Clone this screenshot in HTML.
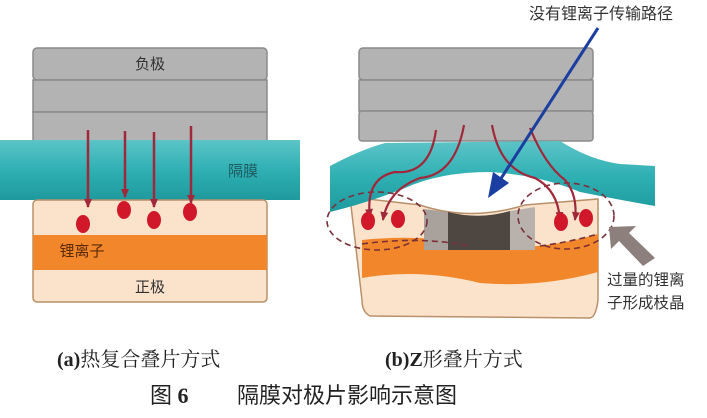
<!DOCTYPE html>
<html><head><meta charset="utf-8"><style>
html,body{margin:0;padding:0;background:#fff;}
svg{display:block;}
text{font-family:"Liberation Sans","Noto Sans CJK SC",sans-serif;}
.cap{font-family:"Liberation Serif","Noto Serif CJK SC",serif;}
</style></head><body>
<svg width="707" height="418" viewBox="0 0 707 418" xmlns="http://www.w3.org/2000/svg">
<defs>
<linearGradient id="teal" x1="0" y1="0" x2="0" y2="1">
<stop offset="0" stop-color="#5cc4c8"/><stop offset="0.5" stop-color="#2fb0b3"/><stop offset="1" stop-color="#1e9a9e"/>
</linearGradient>
<marker id="rh" markerWidth="10" markerHeight="10" refX="8" refY="4" orient="auto" markerUnits="userSpaceOnUse">
<path d="M0,0 L9,4 L0,8 Z" fill="#a0283a"/></marker>
</defs>
<!-- LEFT PANEL -->
<g stroke="#8a8a8a" stroke-width="1.5">
<rect x="33" y="48" width="234" height="32" rx="4" fill="#b3b3b3"/>
<rect x="33" y="80" width="234" height="32" fill="#b3b3b3"/>
<rect x="33" y="112" width="234" height="30" fill="#b3b3b3"/>
</g>
<text x="150" y="69" font-size="15" fill="#333" text-anchor="middle">负极</text>
<rect x="0" y="140" width="300" height="60" fill="url(#teal)"/>
<text x="243" y="176" font-size="15" fill="#1d5a5e" text-anchor="middle">隔膜</text>
<rect x="33" y="200" width="234" height="102" rx="4" fill="#fbe3cb" stroke="#b8906a" stroke-width="1.5"/>
<rect x="33" y="235" width="234" height="35" fill="#f2862a"/>
<text x="82" y="256" font-size="15" fill="#5a2a0a" text-anchor="middle">锂离子</text>
<text x="150" y="292" font-size="15" fill="#333" text-anchor="middle">正极</text>
<g stroke="#a0283a" stroke-width="2.5" marker-end="url(#rh)">
<line x1="88" y1="130" x2="88" y2="207"/>
<line x1="125" y1="131" x2="125" y2="197"/>
<line x1="154" y1="132" x2="154" y2="207"/>
<line x1="191" y1="126" x2="191" y2="203"/>
</g>
<g fill="#d0182a">
<ellipse cx="83" cy="224" rx="7" ry="9"/>
<ellipse cx="124" cy="210" rx="7" ry="9"/>
<ellipse cx="154" cy="220" rx="7" ry="9"/>
<ellipse cx="190" cy="212" rx="7" ry="9"/>
</g>
<!-- RIGHT PANEL -->
<g stroke="#8a8a8a" stroke-width="1.5">
<rect x="359" y="48" width="234" height="32" rx="4" fill="#b3b3b3"/>
<rect x="359" y="80" width="234" height="31" fill="#b3b3b3"/>
<rect x="359" y="111" width="234" height="30" rx="3" fill="#b3b3b3"/>
</g>
<path d="M350,197 L420,205 Q470,222 525,205 L598,199 L598,300 Q596,317 590,318 L370,316 Q362,312 362,300 Z" fill="#fbe3cb" stroke="#b8906a" stroke-width="1.5"/>
<path d="M362,240 Q420,234 470,244 Q530,254 598,234 L598,272 Q540,288 480,283 Q420,268 362,278 Z" fill="#f2862a"/>
<path d="M424,209 L448,212 L448,250 L424,250 Z" fill="#a9a29c"/>
<path d="M448,212 Q480,220 510,211 L510,250 L448,250 Z" fill="#4e4640"/>
<path d="M510,211 L535,207 L535,250 L510,250 Z" fill="#b9b2ac"/>
<path d="M330,166 Q360,150 385,143 L560,141 Q590,160 620,164 L655,166 L655,206 Q620,200 580,192 Q540,175 490,172 Q440,172 405,188 Q370,202 330,212 Z" fill="url(#teal)"/>
<g fill="none" stroke="#7a3038" stroke-width="1.6" stroke-dasharray="6,4">
<ellipse cx="377" cy="221" rx="50" ry="29"/>
<ellipse cx="566" cy="216" rx="48" ry="33"/>
<path d="M362,244 Q420,236 470,246"/>
<path d="M540,246 Q570,242 598,234"/>
</g>
<g fill="none" stroke="#a0283a" stroke-width="2.2" marker-end="url(#rh)">
<path d="M436,130 Q430,175 395,172 Q365,178 370,217"/>
<path d="M464,125 Q455,175 420,178 Q388,190 383,220"/>
<path d="M492,125 Q500,170 535,178 Q558,190 560,220"/>
<path d="M530,128 Q545,165 565,180 Q578,195 575,220"/>
</g>
<g fill="#d0182a">
<ellipse cx="368" cy="221" rx="7" ry="9"/>
<ellipse cx="398" cy="219" rx="7" ry="9"/>
<ellipse cx="561" cy="222" rx="7" ry="9"/>
<ellipse cx="586" cy="218" rx="7" ry="9"/>
</g>
<line x1="598" y1="28" x2="500" y2="180" stroke="#1a3fa0" stroke-width="3"/>
<path d="M488,198 L493,172 L509,183 Z" fill="#1a3fa0"/>
<text x="601" y="19" font-size="16" fill="#333" text-anchor="middle">没有锂离子传输路径</text>
<path d="M609,227 L636,226 L629,233 L655,258 L643,266 L619,241 L611,249 Z" fill="#8c7f7c"/>
<text x="607" y="285" font-size="15.5" fill="#333">过量的锂离</text>
<text x="607" y="308" font-size="15.5" fill="#333">子形成枝晶</text>
<text class="cap" x="57" y="366" font-size="20" fill="#222"><tspan font-weight="bold">(a)</tspan>热复合叠片方式</text>
<text class="cap" x="385" y="366" font-size="20" fill="#222"><tspan font-weight="bold">(b)Z</tspan>形叠片方式</text>
<text x="150" y="403" font-size="22" fill="#222">图<tspan font-family="Liberation Serif,serif" font-weight="bold"> 6</tspan></text>
<text x="237" y="403" font-size="22" fill="#222">隔膜对极片影响示意图</text>
</svg>
</body></html>
